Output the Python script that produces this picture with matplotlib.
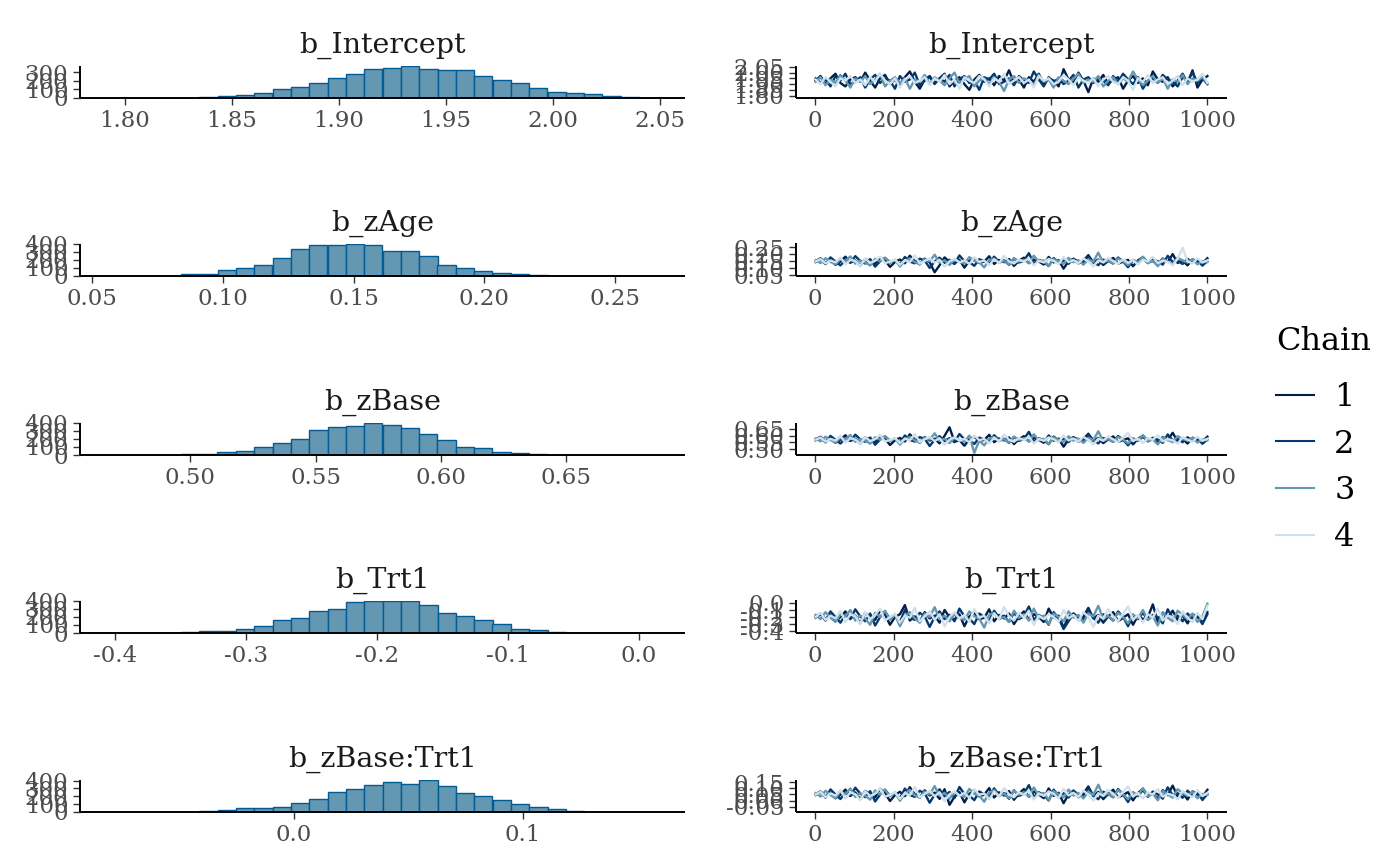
import numpy as np
import matplotlib.pyplot as plt

plt.rcParams['font.family'] = ['DejaVu Serif']

params = ['b_Intercept', 'b_zAge', 'b_zBase', 'b_Trt1', 'b_zBase:Trt1']

# histogram bins: left edge of first bin, bin width, 30 counts each
hist_start = [1.7919, 0.0558, 0.4669, -0.4058, -0.0813]
hist_binw = [0.00857, 0.00702, 0.00732, 0.0140, 0.0080]

counts_intercept = [0, 0, 1, 2, 3, 6, 24, 38, 57, 105, 132, 175, 229, 279, 341,
                    349, 380, 337, 322, 333, 259, 209, 175, 121, 69, 62, 47, 23, 11, 4]
counts_zage = [1, 1, 2, 3, 29, 29, 71, 104, 137, 225, 333, 383, 383, 400, 379,
               304, 308, 242, 133, 96, 62, 37, 21, 12, 6, 4, 3, 2, 1, 1]
counts_zbase = [0, 1, 1, 2, 8, 17, 42, 54, 100, 154, 204, 312, 346, 362, 404,
                375, 333, 262, 187, 104, 92, 42, 29, 12, 6, 2, 1, 1, 0, 1]
counts_trt1 = [1, 1, 1, 2, 8, 21, 29, 50, 84, 156, 185, 274, 299, 383, 404,
               396, 404, 349, 253, 215, 160, 114, 46, 38, 17, 6, 3, 2, 1, 1]
counts_inter = [1, 1, 1, 2, 3, 8, 21, 46, 51, 59, 118, 160, 253, 286, 337,
                383, 358, 413, 333, 240, 206, 156, 97, 63, 42, 12, 6, 4, 2, 1]
hist_counts = [counts_intercept, counts_zage, counts_zbase, counts_trt1, counts_inter]

hist_xticks = [[1.80, 1.85, 1.90, 1.95, 2.00, 2.05],
               [0.05, 0.10, 0.15, 0.20, 0.25],
               [0.50, 0.55, 0.60, 0.65],
               [-0.4, -0.3, -0.2, -0.1, 0.0],
               [0.0, 0.1]]
hist_xlabels = [['1.80', '1.85', '1.90', '1.95', '2.00', '2.05'],
                ['0.05', '0.10', '0.15', '0.20', '0.25'],
                ['0.50', '0.55', '0.60', '0.65'],
                ['-0.4', '-0.3', '-0.2', '-0.1', '0.0'],
                ['0.0', '0.1']]
hist_yticks = [[0, 100, 200, 300],
               [0, 100, 200, 300, 400],
               [0, 100, 200, 300, 400],
               [0, 100, 200, 300, 400],
               [0, 100, 200, 300, 400]]

trace_yticks = [[1.80, 1.85, 1.90, 1.95, 2.00, 2.05],
                [0.05, 0.10, 0.15, 0.20, 0.25],
                [0.50, 0.55, 0.60, 0.65],
                [-0.4, -0.3, -0.2, -0.1, 0.0],
                [-0.05, 0.00, 0.05, 0.10, 0.15]]
trace_ylabels = [['1.80', '1.85', '1.90', '1.95', '2.00', '2.05'],
                 ['0.05', '0.10', '0.15', '0.20', '0.25'],
                 ['0.50', '0.55', '0.60', '0.65'],
                 ['-0.4', '-0.3', '-0.2', '-0.1', '0.0'],
                 ['-0.05', '0.00', '0.05', '0.10', '0.15']]
trace_xticks = [0, 200, 400, 600, 800, 1000]

# thinned draws (every ~12th iteration) per chain
tr_intercept = [
    [1.93, 1.97, 1.90, 1.95, 1.99, 1.91, 1.88, 1.94, 1.96, 1.92, 2.00, 1.93, 1.87, 1.95, 1.98, 1.90,
     1.94, 1.89, 1.96, 2.01, 1.92, 1.86, 1.94, 1.97, 1.91, 1.95, 1.99, 1.88, 1.93, 1.96, 1.90, 1.85,
     1.94, 1.98, 1.92, 1.95, 1.89, 1.97, 1.93, 2.02, 1.91, 1.94, 1.87, 1.96, 1.92, 1.99, 1.90, 1.95,
     1.93, 1.88, 2.03, 1.94, 1.91, 2.00, 1.93, 1.83, 1.95, 1.92, 1.98, 1.90, 1.94, 1.96, 1.86, 1.93,
     1.97, 1.91, 1.95, 1.89, 2.01, 1.94, 1.92, 1.96, 1.88, 1.93, 1.99, 1.91, 2.02, 1.87, 1.94, 1.97],
    [1.95, 1.91, 1.94, 1.88, 1.97, 1.93, 1.99, 1.90, 1.92, 1.96, 1.87, 1.94, 1.98, 1.91, 1.95, 1.93,
     1.86, 1.97, 1.92, 1.94, 2.00, 1.89, 1.93, 1.96, 1.90, 1.95, 1.92, 1.98, 1.88, 1.94, 1.97, 1.91,
     1.93, 1.85, 1.96, 1.94, 1.99, 1.90, 1.92, 1.95, 1.89, 1.97, 1.93, 1.91, 2.01, 1.94, 1.88, 1.96,
     1.92, 1.95, 1.90, 1.93, 1.98, 1.87, 1.94, 1.96, 1.91, 1.95, 1.93, 1.89, 1.97, 1.92, 1.99, 1.94,
     1.90, 1.96, 1.86, 1.93, 1.95, 1.91, 1.98, 1.94, 1.92, 1.88, 1.96, 1.93, 2.00, 1.91, 1.95, 1.90],
    [1.92, 1.96, 1.89, 1.94, 1.91, 1.98, 1.93, 1.87, 1.95, 1.92, 1.97, 1.90, 1.94, 1.99, 1.88, 1.93,
     1.96, 1.91, 1.95, 1.86, 1.94, 1.92, 1.98, 1.90, 1.96, 1.93, 1.89, 1.95, 2.00, 1.91, 1.94, 1.97,
     1.88, 1.93, 1.95, 1.90, 1.96, 1.92, 1.84, 1.94, 1.97, 1.91, 1.95, 1.93, 1.89, 1.98, 1.92, 1.94,
     1.87, 1.96, 1.93, 1.90, 1.95, 1.99, 1.91, 1.94, 1.92, 1.97, 1.88, 1.93, 1.96, 1.90, 1.95, 1.92,
     2.01, 1.94, 1.89, 1.93, 1.97, 1.91, 1.95, 1.86, 1.94, 1.92, 1.98, 1.90, 1.95, 1.93, 1.96, 1.91],
    [1.94, 1.90, 1.96, 1.92, 1.88, 1.95, 1.93, 1.97, 1.91, 1.94, 1.89, 1.96, 1.92, 1.99, 1.93, 1.90,
     1.95, 1.87, 1.94, 1.97, 1.91, 1.93, 1.96, 1.89, 1.95, 1.92, 1.98, 1.90, 1.94, 1.86, 1.96, 1.93,
     1.91, 1.97, 1.94, 1.88, 1.95, 1.92, 1.99, 1.90, 1.93, 1.96, 1.91, 1.94, 1.87, 1.97, 1.93, 1.95,
     1.90, 1.92, 1.98, 1.94, 1.89, 1.96, 1.93, 1.91, 1.95, 1.88, 1.94, 1.97, 1.92, 1.90, 1.96, 1.93,
     1.85, 1.95, 1.92, 1.98, 1.91, 1.94, 1.96, 1.90, 1.93, 1.97, 1.89, 1.95, 1.92, 1.94, 1.99, 1.91],
]
tr_zage = [
    [0.152, 0.171, 0.138, 0.160, 0.125, 0.148, 0.183, 0.141, 0.156, 0.119, 0.167, 0.149, 0.132, 0.175,
     0.158, 0.110, 0.145, 0.163, 0.136, 0.190, 0.151, 0.128, 0.169, 0.143, 0.072, 0.122, 0.178, 0.146,
     0.134, 0.161, 0.105, 0.153, 0.172, 0.139, 0.148, 0.186, 0.131, 0.159, 0.144, 0.166, 0.117, 0.154,
     0.176, 0.137, 0.162, 0.149, 0.127, 0.181, 0.142, 0.158, 0.098, 0.150, 0.168, 0.135, 0.155, 0.194,
     0.140, 0.163, 0.124, 0.152, 0.174, 0.133, 0.147, 0.160, 0.115, 0.157, 0.179, 0.143, 0.151, 0.129,
     0.170, 0.146, 0.201, 0.138, 0.155, 0.121, 0.164, 0.148, 0.136, 0.172],
    [0.145, 0.163, 0.130, 0.178, 0.149, 0.121, 0.158, 0.140, 0.187, 0.153, 0.134, 0.166, 0.112, 0.150,
     0.174, 0.143, 0.159, 0.127, 0.181, 0.147, 0.136, 0.169, 0.155, 0.103, 0.148, 0.176, 0.139, 0.161,
     0.131, 0.192, 0.152, 0.144, 0.118, 0.165, 0.150, 0.137, 0.183, 0.146, 0.157, 0.125, 0.170, 0.141,
     0.154, 0.208, 0.135, 0.160, 0.148, 0.116, 0.173, 0.144, 0.156, 0.132, 0.167, 0.151, 0.139, 0.185,
     0.146, 0.122, 0.162, 0.153, 0.134, 0.177, 0.149, 0.108, 0.158, 0.142, 0.171, 0.137, 0.164, 0.150,
     0.126, 0.189, 0.145, 0.155, 0.131, 0.168, 0.140, 0.159, 0.119, 0.152],
    [0.158, 0.137, 0.172, 0.146, 0.129, 0.164, 0.151, 0.185, 0.133, 0.155, 0.142, 0.120, 0.168, 0.149,
     0.176, 0.138, 0.160, 0.113, 0.153, 0.171, 0.144, 0.130, 0.165, 0.150, 0.197, 0.141, 0.157, 0.124,
     0.162, 0.147, 0.135, 0.180, 0.152, 0.143, 0.107, 0.159, 0.169, 0.139, 0.154, 0.128, 0.173, 0.148,
     0.161, 0.136, 0.190, 0.145, 0.156, 0.118, 0.166, 0.150, 0.132, 0.175, 0.143, 0.158, 0.126, 0.163,
     0.147, 0.212, 0.140, 0.155, 0.134, 0.170, 0.151, 0.122, 0.160, 0.144, 0.183, 0.137, 0.153, 0.115,
     0.167, 0.149, 0.131, 0.176, 0.156, 0.142, 0.164, 0.128, 0.152, 0.145],
    [0.149, 0.166, 0.135, 0.156, 0.143, 0.177, 0.128, 0.160, 0.151, 0.118, 0.169, 0.140, 0.154, 0.184,
     0.137, 0.147, 0.163, 0.125, 0.158, 0.145, 0.192, 0.133, 0.152, 0.171, 0.139, 0.161, 0.111, 0.150,
     0.168, 0.142, 0.157, 0.130, 0.179, 0.146, 0.155, 0.123, 0.164, 0.138, 0.188, 0.150, 0.134, 0.162,
     0.147, 0.173, 0.120, 0.156, 0.141, 0.167, 0.153, 0.129, 0.181, 0.144, 0.159, 0.136, 0.170, 0.148,
     0.114, 0.157, 0.143, 0.175, 0.152, 0.132, 0.165, 0.139, 0.158, 0.126, 0.161, 0.149, 0.182, 0.137,
     0.154, 0.145, 0.121, 0.168, 0.247, 0.150, 0.134, 0.172, 0.141, 0.157],
]
tr_zbase = [
    [0.572, 0.591, 0.556, 0.580, 0.547, 0.568, 0.603, 0.561, 0.577, 0.539, 0.587, 0.569, 0.552, 0.595,
     0.578, 0.530, 0.565, 0.583, 0.556, 0.610, 0.571, 0.548, 0.589, 0.563, 0.577, 0.542, 0.598, 0.662,
     0.554, 0.566, 0.525, 0.573, 0.592, 0.559, 0.568, 0.606, 0.551, 0.579, 0.564, 0.586, 0.537, 0.574,
     0.596, 0.557, 0.582, 0.569, 0.547, 0.601, 0.562, 0.578, 0.518, 0.570, 0.588, 0.555, 0.575, 0.614,
     0.560, 0.583, 0.544, 0.572, 0.594, 0.553, 0.567, 0.580, 0.535, 0.577, 0.599, 0.563, 0.571, 0.549,
     0.590, 0.566, 0.621, 0.558, 0.575, 0.541, 0.584, 0.568, 0.556, 0.592],
    [0.565, 0.583, 0.550, 0.598, 0.569, 0.541, 0.578, 0.560, 0.607, 0.573, 0.554, 0.586, 0.532, 0.570,
     0.594, 0.563, 0.579, 0.547, 0.601, 0.567, 0.556, 0.589, 0.575, 0.523, 0.568, 0.596, 0.559, 0.581,
     0.551, 0.612, 0.572, 0.564, 0.538, 0.585, 0.570, 0.557, 0.603, 0.566, 0.577, 0.545, 0.590, 0.561,
     0.574, 0.628, 0.555, 0.580, 0.568, 0.536, 0.593, 0.564, 0.576, 0.552, 0.587, 0.571, 0.559, 0.605,
     0.566, 0.542, 0.582, 0.573, 0.554, 0.597, 0.569, 0.528, 0.578, 0.562, 0.591, 0.557, 0.584, 0.570,
     0.546, 0.609, 0.565, 0.575, 0.551, 0.588, 0.560, 0.579, 0.539, 0.572],
    [0.578, 0.557, 0.592, 0.566, 0.549, 0.584, 0.571, 0.605, 0.553, 0.575, 0.562, 0.540, 0.588, 0.569,
     0.596, 0.558, 0.580, 0.533, 0.573, 0.591, 0.564, 0.550, 0.585, 0.570, 0.617, 0.561, 0.577, 0.544,
     0.582, 0.567, 0.555, 0.600, 0.472, 0.563, 0.527, 0.579, 0.589, 0.559, 0.574, 0.548, 0.593, 0.568,
     0.581, 0.556, 0.610, 0.565, 0.576, 0.538, 0.586, 0.570, 0.552, 0.595, 0.563, 0.578, 0.546, 0.583,
     0.567, 0.632, 0.560, 0.575, 0.554, 0.590, 0.571, 0.542, 0.580, 0.564, 0.603, 0.557, 0.573, 0.535,
     0.587, 0.569, 0.551, 0.596, 0.576, 0.562, 0.584, 0.548, 0.572, 0.565],
    [0.569, 0.586, 0.555, 0.576, 0.563, 0.597, 0.548, 0.580, 0.571, 0.538, 0.589, 0.560, 0.574, 0.604,
     0.557, 0.567, 0.583, 0.545, 0.578, 0.565, 0.612, 0.553, 0.572, 0.591, 0.559, 0.581, 0.531, 0.570,
     0.588, 0.562, 0.577, 0.550, 0.599, 0.566, 0.575, 0.543, 0.584, 0.558, 0.608, 0.570, 0.554, 0.582,
     0.567, 0.593, 0.540, 0.576, 0.561, 0.587, 0.573, 0.549, 0.601, 0.564, 0.579, 0.556, 0.590, 0.568,
     0.534, 0.577, 0.563, 0.595, 0.572, 0.552, 0.585, 0.619, 0.559, 0.578, 0.546, 0.581, 0.569, 0.602,
     0.557, 0.574, 0.565, 0.541, 0.588, 0.570, 0.554, 0.592, 0.561, 0.577],
]
tr_trt1 = [
    [-0.19, -0.15, -0.23, -0.17, -0.26, -0.20, -0.12, -0.22, -0.18, -0.29, -0.14, -0.21, -0.24, -0.11,
     -0.17, -0.31, -0.20, -0.16, -0.03, -0.25, -0.19, -0.27, -0.13, -0.22, -0.18, -0.28, -0.10, -0.20,
     -0.24, -0.16, -0.33, -0.19, -0.14, -0.23, -0.21, -0.09, -0.26, -0.17, -0.22, -0.15, -0.30, -0.19,
     -0.12, -0.24, -0.16, -0.20, -0.27, -0.08, -0.21, -0.18, -0.35, -0.20, -0.15, -0.25, -0.19, -0.07,
     -0.22, -0.17, -0.28, -0.19, -0.13, -0.26, -0.21, -0.16, -0.31, -0.18, -0.23, -0.20, -0.02, -0.27,
     -0.14, -0.21, -0.11, -0.24, -0.18, -0.29, -0.16, -0.20, -0.25, -0.13],
    [-0.21, -0.16, -0.25, -0.12, -0.20, -0.28, -0.17, -0.23, -0.09, -0.19, -0.26, -0.15, -0.32, -0.20,
     -0.13, -0.22, -0.18, -0.27, -0.10, -0.21, -0.24, -0.14, -0.19, -0.34, -0.20, -0.12, -0.23, -0.17,
     -0.26, -0.08, -0.19, -0.22, -0.30, -0.15, -0.20, -0.25, -0.11, -0.21, -0.18, -0.27, -0.14, -0.23,
     -0.19, -0.05, -0.24, -0.17, -0.21, -0.31, -0.13, -0.22, -0.37, -0.26, -0.15, -0.20, -0.23, -0.10,
     -0.21, -0.28, -0.16, -0.19, -0.25, -0.12, -0.20, -0.33, -0.18, -0.23, -0.14, -0.24, -0.17, -0.20,
     -0.29, -0.09, -0.21, -0.18, -0.26, -0.15, -0.22, -0.19, -0.30, -0.16],
    [-0.17, -0.23, -0.13, -0.21, -0.27, -0.16, -0.19, -0.10, -0.25, -0.18, -0.22, -0.31, -0.14, -0.20,
     -0.11, -0.24, -0.17, -0.33, -0.19, -0.13, -0.22, -0.28, -0.15, -0.20, -0.06, -0.23, -0.18, -0.26,
     -0.16, -0.21, -0.24, -0.12, -0.19, -0.22, -0.35, -0.17, -0.14, -0.23, -0.20, -0.27, -0.11, -0.21,
     -0.16, -0.25, -0.08, -0.22, -0.18, -0.30, -0.15, -0.20, -0.26, -0.12, -0.21, -0.17, -0.28, -0.15,
     -0.19, -0.04, -0.23, -0.18, -0.25, -0.14, -0.20, -0.29, -0.16, -0.22, -0.10, -0.24, -0.19, -0.32,
     -0.13, -0.21, -0.26, -0.11, -0.17, -0.23, -0.15, -0.27, -0.19, -0.01],
    [-0.20, -0.14, -0.24, -0.18, -0.22, -0.11, -0.27, -0.16, -0.19, -0.30, -0.13, -0.23, -0.17, -0.08,
     -0.25, -0.20, -0.15, -0.28, -0.18, -0.21, -0.07, -0.26, -0.19, -0.12, -0.24, -0.16, -0.33, -0.20,
     -0.13, -0.22, -0.17, -0.27, -0.09, -0.21, -0.18, -0.29, -0.15, -0.23, -0.06, -0.19, -0.25, -0.14,
     -0.21, -0.11, -0.31, -0.18, -0.23, -0.16, -0.20, -0.27, -0.10, -0.22, -0.17, -0.26, -0.13, -0.20,
     -0.34, -0.18, -0.22, -0.09, -0.19, -0.26, -0.15, -0.05, -0.24, -0.17, -0.28, -0.16, -0.21, -0.08,
     -0.25, -0.18, -0.20, -0.30, -0.12, -0.21, -0.27, -0.14, -0.23, -0.04],
]
tr_inter = [
    [0.052, 0.074, 0.031, 0.061, 0.018, 0.047, 0.089, 0.038, 0.066, 0.009, 0.079, 0.049, 0.026, 0.095,
     0.057, -0.004, 0.043, 0.071, 0.035, 0.108, 0.051, 0.022, 0.083, 0.041, 0.064, 0.013, 0.092, -0.035,
     0.029, 0.069, -0.015, 0.054, 0.086, 0.033, 0.048, 0.101, 0.024, 0.067, 0.040, 0.077, 0.006, 0.056,
     0.093, 0.030, 0.072, 0.049, 0.019, 0.098, 0.037, 0.063, -0.022, 0.050, 0.081, 0.027, 0.059, 0.114,
     0.035, 0.070, 0.011, 0.053, 0.088, 0.025, 0.045, 0.068, 0.001, 0.060, 0.096, 0.039, 0.055, 0.016,
     0.084, 0.044, 0.121, 0.032, 0.062, 0.008, 0.075, 0.048, 0.028, 0.087],
    [0.045, 0.068, 0.023, 0.090, 0.050, 0.012, 0.064, 0.036, 0.104, 0.057, 0.027, 0.076, -0.008, 0.048,
     0.085, 0.040, 0.066, 0.017, 0.097, 0.044, 0.030, 0.079, 0.058, -0.018, 0.047, 0.091, 0.034, 0.070,
     0.021, 0.110, 0.053, 0.041, 0.003, 0.074, 0.050, 0.031, 0.099, 0.043, 0.061, 0.014, 0.083, 0.037,
     0.056, 0.125, 0.028, 0.067, 0.046, 0.000, 0.088, 0.039, 0.059, 0.024, 0.078, 0.052, 0.033, 0.102,
     0.043, 0.010, 0.071, 0.055, 0.026, 0.093, 0.048, -0.012, 0.065, 0.035, 0.086, 0.029, 0.073, 0.050,
     0.015, 0.107, 0.044, 0.060, 0.022, 0.080, 0.038, 0.066, 0.004, 0.053],
    [0.060, 0.032, 0.079, 0.044, 0.020, 0.070, 0.051, 0.098, 0.028, 0.058, 0.039, 0.007, 0.082, 0.048,
     0.091, 0.034, 0.066, -0.002, 0.055, 0.087, 0.042, 0.024, 0.073, 0.050, 0.117, 0.037, 0.063, 0.014,
     0.069, 0.045, 0.030, 0.094, 0.053, 0.041, -0.010, 0.064, 0.084, 0.035, 0.057, 0.019, 0.080, 0.047,
     0.068, 0.031, 0.106, 0.043, 0.061, 0.005, 0.076, 0.050, 0.026, 0.089, 0.040, 0.062, 0.017, 0.071,
     0.046, 0.128, 0.036, 0.059, 0.029, 0.085, 0.052, 0.011, 0.067, 0.042, 0.100, 0.033, 0.056, 0.002,
     0.078, 0.049, 0.023, 0.092, 0.060, 0.038, 0.072, 0.018, 0.054, 0.045],
    [0.049, 0.071, 0.027, 0.058, 0.040, 0.086, 0.016, 0.065, 0.052, 0.003, 0.077, 0.036, 0.056, 0.097,
     0.030, 0.046, 0.069, 0.013, 0.061, 0.043, 0.109, 0.025, 0.053, 0.080, 0.034, 0.067, -0.006, 0.050,
     0.075, 0.039, 0.062, 0.021, 0.090, 0.045, 0.057, 0.010, 0.072, 0.032, 0.103, 0.051, 0.026, 0.068,
     0.044, 0.083, 0.008, 0.059, 0.037, 0.074, 0.054, 0.018, 0.095, 0.041, 0.063, 0.029, 0.081, 0.047,
     -0.001, 0.060, 0.038, 0.088, 0.052, 0.022, 0.070, 0.115, 0.033, 0.061, 0.015, 0.066, 0.048, 0.093,
     0.031, 0.055, 0.044, 0.009, 0.078, 0.050, 0.027, 0.084, 0.036, 0.063],
]
traces = [tr_intercept, tr_zage, tr_zbase, tr_trt1, tr_inter]

chain_labels = ['1', '2', '3', '4']
chain_colors = ['#011f4b', '#03396c', '#6497b1', '#d1e1ec']
hist_fill = '#6497b1'
hist_edge = '#005b96'
tick_color = '#4d4d4d'
title_color = '#1a1a1a'

W, H = 1400, 866
fig = plt.figure(figsize=(W / 100, H / 100), dpi=100)

row_bottoms = [98, 276, 455, 633, 812]
ax_h = 32.5


def style_axes(ax):
    for side in ['top', 'right']:
        ax.spines[side].set_visible(False)
    for side in ['left', 'bottom']:
        ax.spines[side].set_color('black')
        ax.spines[side].set_linewidth(1.4)
        ax.spines[side].set_capstyle('butt')
    ax.tick_params(axis='both', length=4.9, width=1.0, color='#333333',
                   labelsize=16.5, labelcolor=tick_color, pad=3.5)
    ax.set_facecolor('none')


legend_lines = []
for i, name in enumerate(params):
    b = row_bottoms[i]
    # histogram panel
    axh = fig.add_axes([80 / W, 1 - b / H, 605 / W, ax_h / H])
    edges = hist_start[i] + hist_binw[i] * np.arange(len(hist_counts[i]))
    axh.bar(edges, hist_counts[i], width=hist_binw[i], align='edge',
            color=hist_fill, edgecolor=hist_edge, linewidth=1.0)
    axh.margins(x=0.05, y=0)
    axh.set_xticks(hist_xticks[i])
    axh.set_xticklabels(hist_xlabels[i])
    axh.set_yticks(hist_yticks[i])
    axh.set_yticklabels([str(v) for v in hist_yticks[i]])
    style_axes(axh)
    axh.set_title(name, fontsize=20.5, color=title_color, pad=9.5)

    # trace panel
    axt = fig.add_axes([796 / W, 1 - b / H, 431 / W, ax_h / H])
    for c, vals in enumerate(traces[i]):
        it = np.linspace(1, 1000, len(vals))
        ln, = axt.plot(it, vals, color=chain_colors[c], linewidth=1.7,
                       label=chain_labels[c])
        if i == 0:
            legend_lines.append(ln)
    axt.set_xlim(-49, 1050)
    axt.set_ylim(axh.get_xlim())
    axt.set_xticks(trace_xticks)
    axt.set_xticklabels([str(v) for v in trace_xticks])
    axt.set_yticks(trace_yticks[i])
    axt.set_yticklabels(trace_ylabels[i])
    style_axes(axt)
    axt.set_title(name, fontsize=20.5, color=title_color, pad=9.5)

leg = fig.legend(legend_lines, chain_labels, title='Chain', loc='upper left',
                 bbox_to_anchor=(1276 / W, 1 - 326 / H), frameon=False,
                 borderpad=0, borderaxespad=0, alignment='left',
                 fontsize=23, title_fontsize=23, handlelength=1.2,
                 handletextpad=0.62, labelspacing=0.49)
for ln in leg.get_lines():
    ln.set_linewidth(1.5)
# a little more room between the legend title and the first key
leg._legend_box.sep = 18

fig.savefig('out.png', dpi=100, facecolor='white')
